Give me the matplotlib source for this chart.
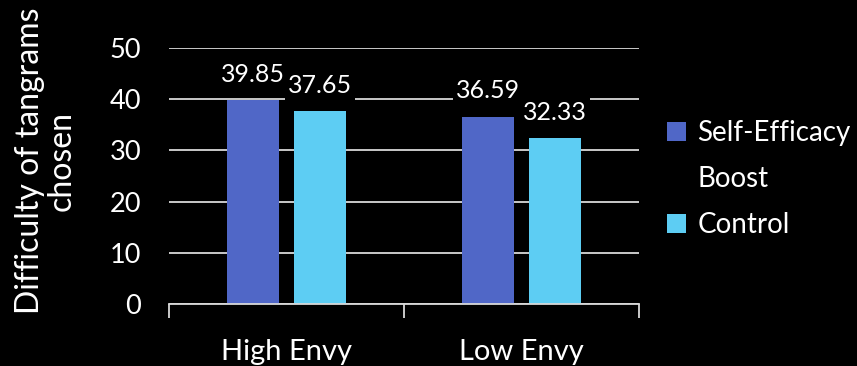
import numpy as np
import matplotlib
matplotlib.use('Agg')
from matplotlib import pyplot as plt
from matplotlib.patches import Patch

# data
groups = ['High Envy', 'Low Envy']
series = ['Self-Efficacy Boost', 'Control']
boost = [39.85, 36.59]
control = [37.65, 32.33]
yticks = [0, 10, 20, 30, 40, 50]

colors = ['#5067C7', '#5DCDF3']
grid_col = '#D9D9D9'

plt.rcParams['font.family'] = ['Lato', 'DejaVu Sans']

fig = plt.figure(figsize=(8.57, 3.66), dpi=100, facecolor='black')
ax = fig.add_axes([169/857, 1 - 304/366, 470/857, 256/366])
ax.set_facecolor('black')

x = np.arange(len(groups))
w = 0.221
off = 0.1426

b1 = ax.bar(x - off, boost, w, color=colors[0], zorder=3)
b2 = ax.bar(x + off, control, w, color=colors[1], zorder=3)

for bars, vals in [(b1, boost), (b2, control)]:
    for rect, v in zip(bars, vals):
        ax.text(rect.get_x() + rect.get_width()/2, v + 2.8, '%.2f' % v,
                ha='center', va='bottom', color='white', fontsize=18,
                zorder=4,
                bbox=dict(facecolor='black', edgecolor='none', pad=2))

ax.set_xlim(-0.5, 1.5)
ax.set_ylim(0, 50)
ax.set_yticks(yticks)
ax.yaxis.grid(True, color=grid_col, lw=1.3, zorder=0)
ax.tick_params(axis='y', length=0, pad=20, labelsize=19.5, labelcolor='white')

ax.set_xticks(x)
ax.set_xticklabels(groups)
ax.set_xticks([-0.5, 0.5, 1.5], minor=True)
ax.tick_params(axis='x', which='major', length=0, pad=25, labelsize=21,
               labelcolor='white')
ax.tick_params(axis='x', which='minor', length=10, width=1.3, color=grid_col,
               direction='out')

for s in ['top', 'right', 'left']:
    ax.spines[s].set_visible(False)
ax.spines['bottom'].set_color(grid_col)
ax.spines['bottom'].set_linewidth(1.3)
ax.spines['bottom'].set_zorder(5)

fig.text(46/857, 1 - 161/366, 'Difficulty of tangrams\nchosen', rotation=90,
         ha='center', va='center', color='white', fontsize=23,
         multialignment='center', linespacing=1.05)

# legend: first series wraps onto two lines, handle sits on the first line
first, second = series[0].split(' ')
handles = [Patch(facecolor=colors[0], edgecolor='none'),
           Patch(facecolor='none', edgecolor='none'),
           Patch(facecolor=colors[1], edgecolor='none')]
labels = [first, second, series[1]]
leg = fig.legend(handles, labels, loc='upper left',
                 bbox_to_anchor=(642/857, 1 - 95/366), frameon=False,
                 fontsize=20, labelcolor='white', handlelength=0.7,
                 handleheight=0.7, handletextpad=0.4, labelspacing=0.72)

fig.savefig('out.png', dpi=100, facecolor='black')
